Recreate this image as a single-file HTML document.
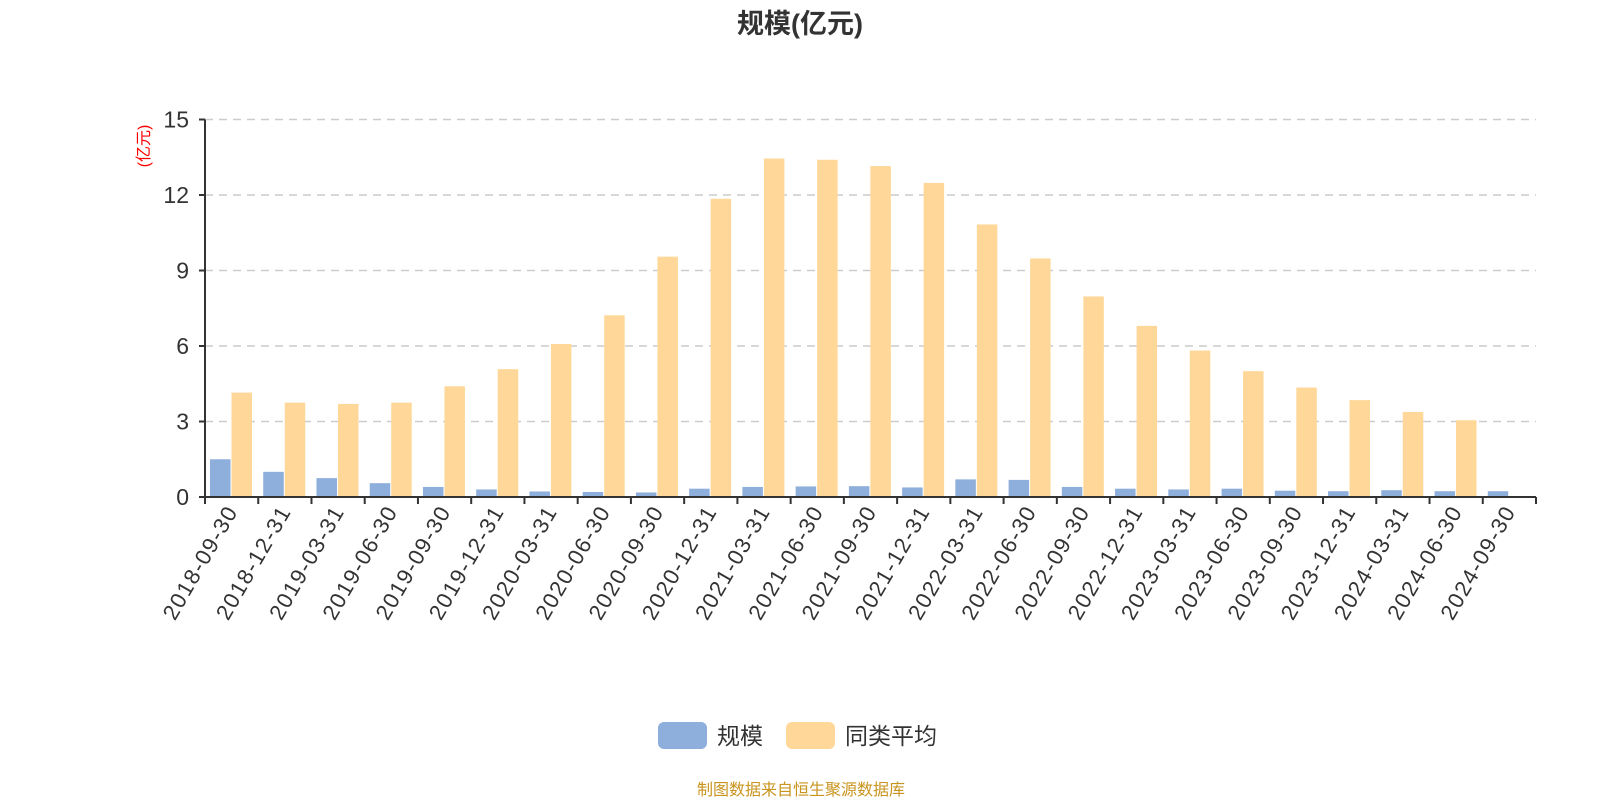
<!DOCTYPE html>
<html><head><meta charset="utf-8"><style>
body{margin:0;background:#fff;}
svg text{font-family:"Liberation Sans","Noto Sans CJK SC",sans-serif;}
</style></head><body>
<svg id="c" width="1600" height="800" xmlns="http://www.w3.org/2000/svg">
<text x="800" y="33" text-anchor="middle" font-size="27" font-weight="bold" fill="#333">规模(亿元)</text>
<text transform="translate(149,146) rotate(-90)" text-anchor="middle" font-size="16" fill="#f00">(亿元)</text>
<g id="grid"></g><g id="bars"></g><g id="axes"></g>
<g>
<rect x="658" y="722" width="49" height="27" rx="6" fill="#8eaedc"/>
<text x="717" y="744" font-size="23" fill="#333">规模</text>
<rect x="786" y="722" width="49" height="27" rx="6" fill="#ffd899"/>
<text x="845" y="744" font-size="23" fill="#333">同类平均</text>
</g>
<text x="801" y="795" text-anchor="middle" font-size="16" fill="#c8941e">制图数据来自恒生聚源数据库</text>
</svg>
<script>
const categories=["2018-09-30","2018-12-31","2019-03-31","2019-06-30","2019-09-30","2019-12-31","2020-03-31","2020-06-30","2020-09-30","2020-12-31","2021-03-31","2021-06-30","2021-09-30","2021-12-31","2022-03-31","2022-06-30","2022-09-30","2022-12-31","2023-03-31","2023-06-30","2023-09-30","2023-12-31","2024-03-31","2024-06-30","2024-09-30"];
const scaleValues=[1.5,1.0,0.75,0.55,0.4,0.3,0.22,0.2,0.18,0.33,0.4,0.42,0.43,0.38,0.7,0.68,0.4,0.33,0.3,0.33,0.25,0.23,0.27,0.23,0.23];
const avgValues=[4.15,3.75,3.7,3.75,4.4,5.08,6.08,7.22,9.55,11.85,13.45,13.4,13.15,12.48,10.83,9.48,7.97,6.8,5.82,5.0,4.35,3.85,3.38,3.05,null];
const yTicks=[0,3,6,9,12,15];
const NS="http://www.w3.org/2000/svg";
const L=205,R=1536,T=119.5,B=497,yMax=15;
const bw=(R-L)/categories.length;
const y=v=>B-(v/yMax)*(B-T);
const x=i=>L+i*bw;
function mk(t,a,p){const e=document.createElementNS(NS,t);for(const k in a)e.setAttribute(k,a[k]);p.appendChild(e);return e;}
const grid=document.getElementById('grid'),bars=document.getElementById('bars'),axes=document.getElementById('axes');
yTicks.forEach(v=>{
 if(v>0){const g=mk('line',{x1:L,x2:R,y1:y(v),y2:y(v),stroke:'#ccc','stroke-dasharray':'8,6','stroke-width':1.5},grid);
 }
 const t=mk('line',{x1:L-6,x2:L,y1:y(v),y2:y(v),stroke:'#333','stroke-width':2},axes);
 
 const tx=mk('text',{x:L-16,y:y(v)+8,'text-anchor':'end','font-size':23,fill:'#333'},axes);tx.textContent=v;
 
});
const ya=mk('line',{x1:L,x2:L,y1:T,y2:B,stroke:'#333','stroke-width':2},axes);

const xa=mk('line',{x1:L,x2:R,y1:B,y2:B,stroke:'#333','stroke-width':2},axes);

categories.forEach((c,i)=>{
 const tk=mk('line',{x1:x(i),x2:x(i),y1:B,y2:B+7,stroke:'#333','stroke-width':2},axes);
 
 const cx=x(i)+bw/2;
 const tx=mk('text',{x:0,y:0,'text-anchor':'end','font-size':22,'letter-spacing':1.5,fill:'#333',transform:`translate(${cx+7},${B+14}) rotate(-60)`},axes);tx.textContent=c;
 
 const b1=mk('rect',{x:x(i)+5,y:y(scaleValues[i]),width:20.5,height:B-y(scaleValues[i]),fill:'#8eaedc'},bars);
 
 if(avgValues[i]!=null){const b2=mk('rect',{x:x(i)+26.5,y:y(avgValues[i]),width:20.5,height:B-y(avgValues[i]),fill:'#ffd899'},bars);
 }
});
const lt=mk('line',{x1:R,x2:R,y1:B,y2:B+7,stroke:'#333','stroke-width':2},axes);

</script>
</body></html>
